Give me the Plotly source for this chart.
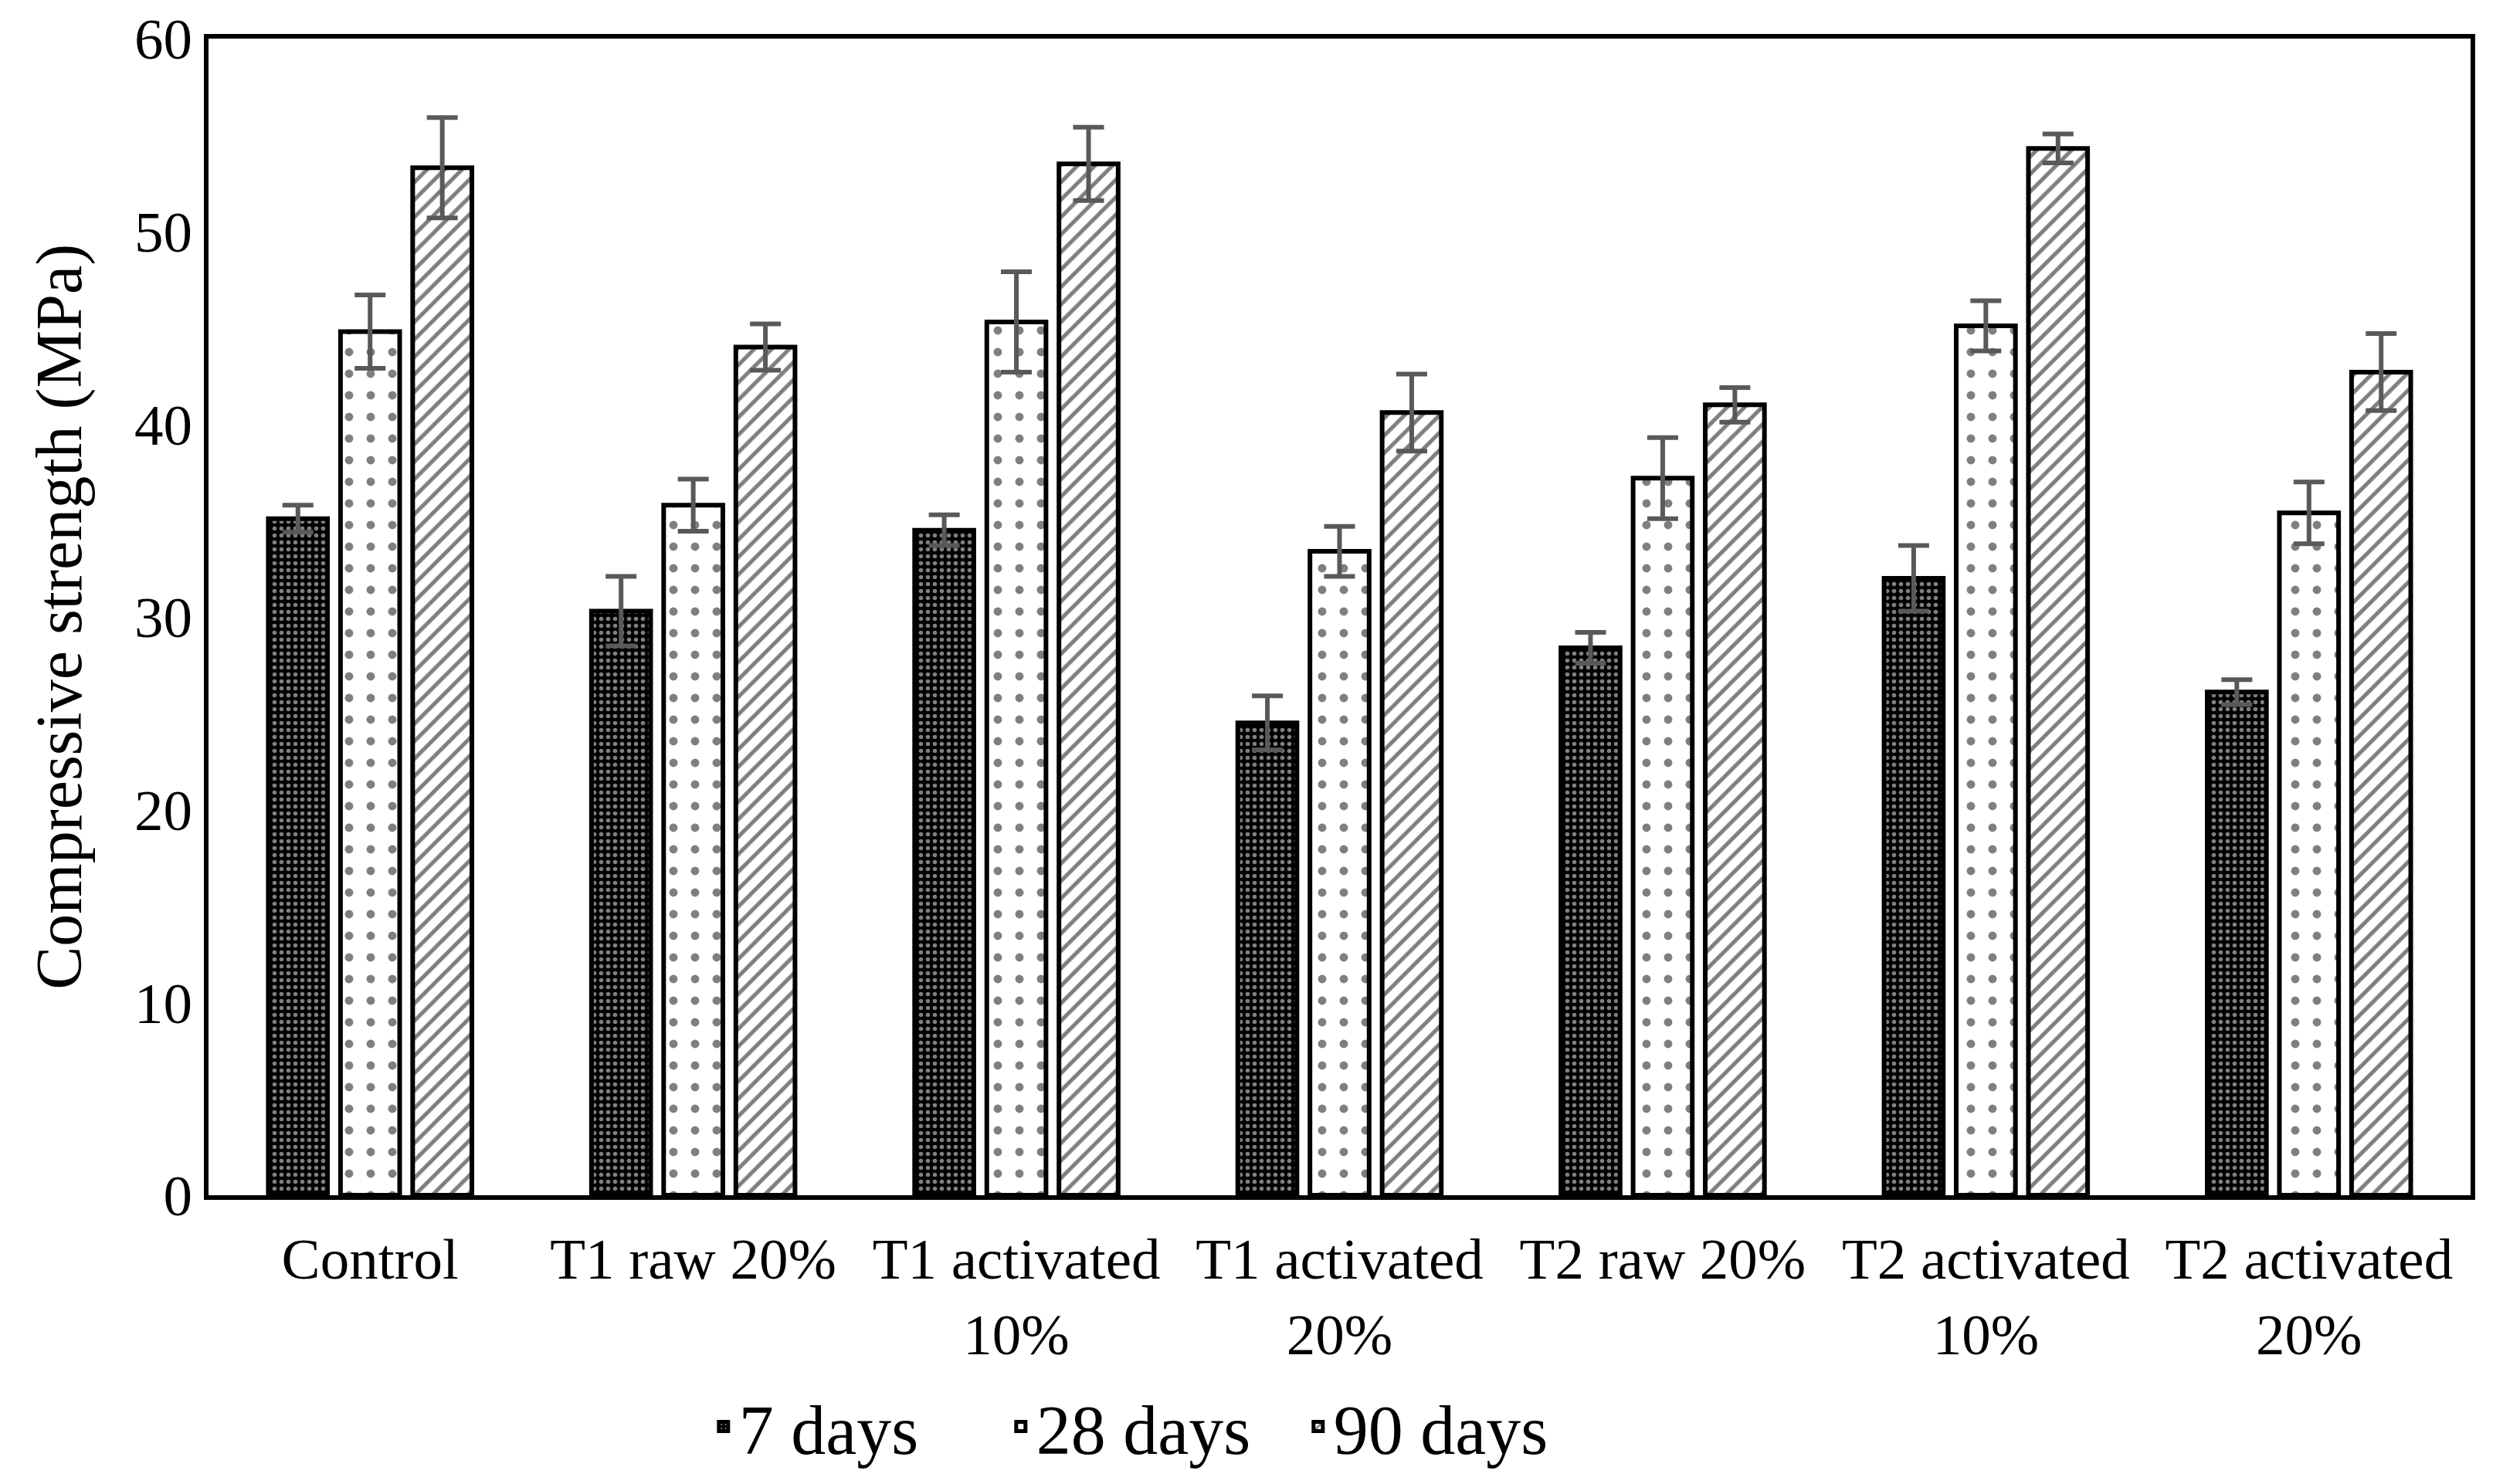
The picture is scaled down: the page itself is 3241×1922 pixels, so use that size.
import plotly.graph_objects as go

categories = ["Control", "T1 raw 20%", "T1 activated<br>10%", "T1 activated<br>20%",
              "T2 raw 20%", "T2 activated<br>10%", "T2 activated<br>20%"]
series_names = ["7 days", "28 days", "90 days"]
vals_7 = [35.1, 30.3, 34.5, 24.5, 28.4, 32.0, 26.1]
err_7 = [0.7, 1.8, 0.8, 1.4, 0.8, 1.7, 0.65]
vals_28 = [44.8, 35.8, 45.3, 33.4, 37.2, 45.1, 35.4]
err_28 = [1.9, 1.35, 2.6, 1.3, 2.1, 1.3, 1.6]
vals_90 = [53.3, 44.0, 53.5, 40.6, 41.0, 54.3, 42.7]
err_90 = [2.6, 1.2, 1.9, 2.0, 0.9, 0.75, 2.0]
y_ticks = [0, 10, 20, 30, 40, 50, 60]
y_title = "Compressive strength (MPa)"

FONT = "Liberation Serif, Times New Roman, serif"
patterns = [
    dict(shape=".", bgcolor="black", fgcolor="white", size=9, solidity=0.3),
    dict(shape=".", bgcolor="white", fgcolor="black", size=28, solidity=0.12),
    dict(shape="/", bgcolor="white", fgcolor="black", size=16, solidity=0.32),
]

fig = go.Figure()
for name, v, e, pat in zip(series_names, [vals_7, vals_28, vals_90], [err_7, err_28, err_90], patterns):
    fig.add_trace(go.Bar(
        x=categories, y=v, name=name,
        marker=dict(color="white", pattern=pat, line=dict(color="black", width=6)),
        error_y=dict(type="data", array=e, visible=True, color="#595959", thickness=6, width=20),
    ))

fig.update_layout(
    width=3241, height=1922,
    margin=dict(l=262, r=50, t=42, b=382, autoexpand=False),
    paper_bgcolor="white", plot_bgcolor="white",
    barmode="group", bargap=0.33, bargroupgap=0.18,
    font=dict(family=FONT, size=75, color="black"),
    showlegend=True,
    legend=dict(orientation="h", x=0.418, xanchor="center", y=-0.2, yanchor="middle",
                font=dict(family=FONT, size=90, color="black"), entrywidth=340,
                itemwidth=30, bgcolor="rgba(0,0,0,0)"),
    annotations=[dict(text=y_title, textangle=-90, xref="paper", yref="paper",
                      x=-0.066, y=0.5, xanchor="center", yanchor="middle", showarrow=False,
                      font=dict(family=FONT, size=84, color="black"))],
)
fig.update_xaxes(showline=True, linecolor="black", linewidth=6, mirror=True, automargin=False,
                 ticks="outside", ticklen=12, tickcolor="rgba(0,0,0,0)",
                 tickfont=dict(family=FONT, size=75), showgrid=False)
fig.update_yaxes(range=[0, 60], tickvals=y_ticks, showline=True, linecolor="black", linewidth=6,
                 mirror=True, ticks="", showgrid=False, zeroline=False, ticklabeloverflow="allow",
                 automargin=False, tickfont=dict(family=FONT, size=75))

fig.write_html("out.html")
